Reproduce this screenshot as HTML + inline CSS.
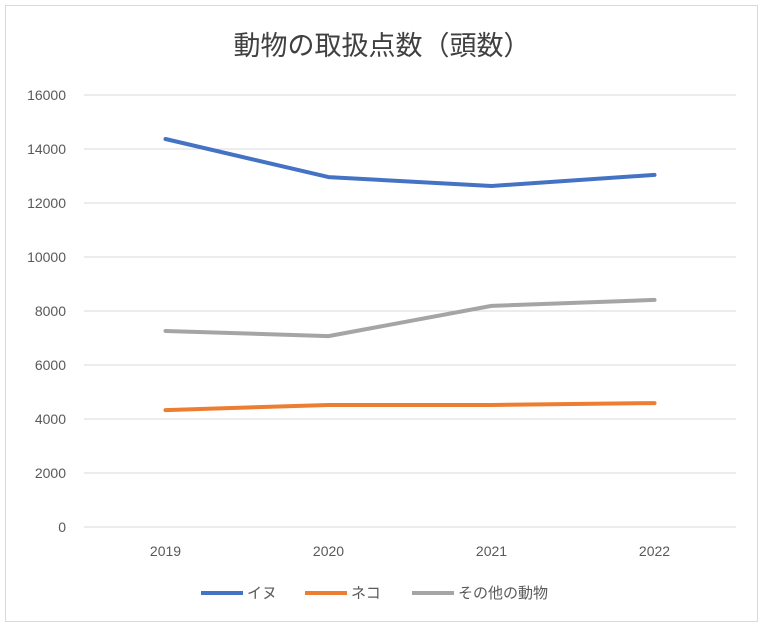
<!DOCTYPE html>
<html><head><meta charset="utf-8"><style>
body{margin:0;background:#fff;}
svg{display:block;font-family:"Liberation Sans","Noto Sans CJK JP",sans-serif;}
</style></head><body>
<svg id="chart" width="764" height="627">
<rect x="5.5" y="5.5" width="752" height="616" fill="#fff" stroke="#d9d9d9"/>
<text x="382" y="55" text-anchor="middle" font-size="27" fill="#404040">動物の取扱点数（頭数）</text>
<g id="grid"></g><g id="series"></g><g id="legend"></g>
</svg>
<script>
const categories=["2019","2020","2021","2022"];
const yTicks=[0,2000,4000,6000,8000,10000,12000,14000,16000];
const dogValues=[14370,12960,12630,13040];
const catValues=[4330,4520,4520,4590];
const otherValues=[7260,7070,8190,8410];
const seriesNames=["イヌ","ネコ","その他の動物"];
const colors=["#4472c4","#ed7d31","#a5a5a5"];
const NS="http://www.w3.org/2000/svg";
const x0=84,x1=736,y0=527,y1=95,yMax=16000;
const xs=i=>x0+(x1-x0)/categories.length*(i+0.5);
const ys=v=>y0-(y0-y1)*v/yMax;
function mk(t,a,p){const e=document.createElementNS(NS,t);for(const k in a)e.setAttribute(k,a[k]);p.appendChild(e);return e;}
const grid=document.getElementById('grid');
yTicks.forEach(v=>{
 const l=mk('line',{x1:x0,x2:x1,y1:ys(v),y2:ys(v),stroke:'#d9d9d9','stroke-width':1},grid);
 
 
 const t=mk('text',{x:66,y:ys(v)+5,'text-anchor':'end','font-size':14,fill:'#595959'},grid);
 t.textContent=v;
 
 
});
categories.forEach((c,i)=>{
 const t=mk('text',{x:xs(i),y:556,'text-anchor':'middle','font-size':14,fill:'#595959'},grid);
 t.textContent=c;
 
 
});
const sg=document.getElementById('series');
[dogValues,catValues,otherValues].forEach((vals,s)=>{
 const p=mk('polyline',{points:vals.map((v,i)=>xs(i)+','+ys(v)).join(' '),fill:'none',stroke:colors[s],'stroke-width':4,'stroke-linejoin':'round','stroke-linecap':'round'},sg);
 
 
});
const lg=document.getElementById('legend');
const lx=[201,305,412];
seriesNames.forEach((n,s)=>{
 const l=mk('line',{x1:lx[s],x2:lx[s]+42,y1:593,y2:593,stroke:colors[s],'stroke-width':4},lg);
 
 
 const t=mk('text',{x:lx[s]+46,y:598,'font-size':15,fill:'#595959'},lg);
 t.textContent=n;
 
 
});
</script>
</body></html>
